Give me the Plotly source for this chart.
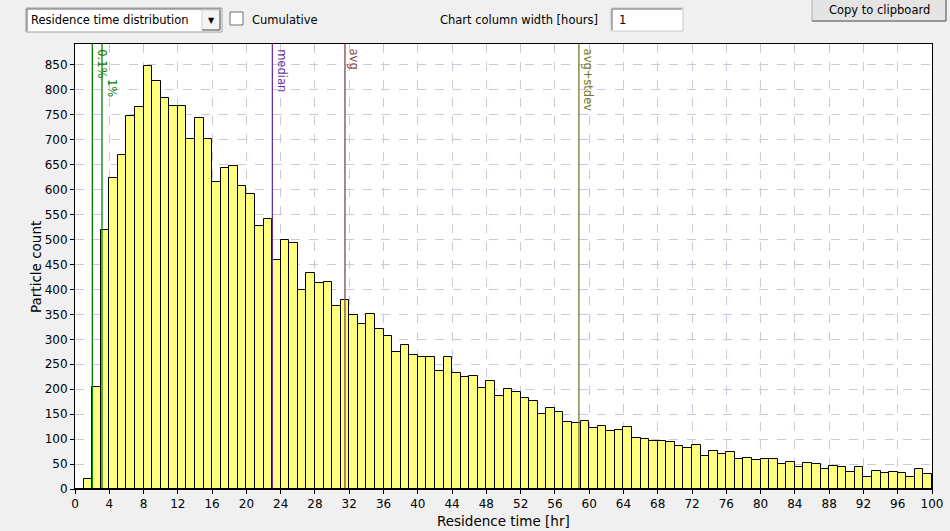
import plotly.graph_objects as go

# ---- data ----
hours = list(range(100))  # bin start [hr], bin width 1 hr
counts = [0, 20, 204, 520, 624, 669, 748, 765, 848, 818,
          783, 767, 767, 701, 743, 701, 616, 644, 648, 607,
          592, 527, 541, 460, 500, 493, 398, 433, 413, 415,
          366, 378, 348, 331, 351, 320, 306, 274, 289, 269,
          264, 264, 236, 264, 232, 224, 226, 202, 217, 187,
          201, 194, 182, 177, 150, 162, 155, 135, 132, 137,
          122, 126, 117, 119, 124, 102, 100, 97, 97, 94,
          87, 82, 89, 67, 77, 70, 75, 60, 62, 58,
          60, 60, 50, 55, 45, 52, 50, 40, 47, 45,
          35, 45, 25, 37, 33, 35, 33, 25, 40, 30]
marker_names = ["0.1%", "1%", "median", "avg", "avg+stdev"]
marker_values = [2.02, 3.15, 23.03, 31.5, 58.8]
marker_colors = ["#008000", "#008000", "#6a32a8", "#844848", "#77772a"]
label_drop = [0, 30, 0, 0, 0]  # px offset of label below top
x_ticks = list(range(0, 101, 4))
y_ticks = list(range(0, 851, 50))

FONT = "DejaVu Sans, Tahoma, sans-serif"
W, H = 950, 531
L, R, T, B = 75, 18, 44, 42
PW, PH = W - L - R, H - T - B


def px(x):
    return (x - L) / PW


def py(y):
    return (H - B - y) / PH


fig = go.Figure()
fig.add_trace(go.Bar(
    x=[h + 0.5 for h in hours], y=counts, width=1,
    marker=dict(color="#ffff80", line=dict(color="#000000", width=1)),
    hoverinfo="x+y", showlegend=False))

shapes = []
annotations = []
for name, v, c, d in zip(marker_names, marker_values, marker_colors, label_drop):
    shapes.append(dict(type="line", xref="x", yref="paper", x0=v, x1=v, y0=0, y1=1,
                       line=dict(color=c, width=1.3), layer="above"))
    annotations.append(dict(xref="x", yref="paper", x=v, y=1, text=name, showarrow=False,
                            textangle=90, xanchor="left", yanchor="top", xshift=1,
                            yshift=-3 - d, font=dict(family=FONT, size=11.5, color=c)))

# thick bottom axis line
shapes.append(dict(type="line", xref="paper", yref="y", x0=0, x1=1, y0=0, y1=0,
                   line=dict(color="#000000", width=2), layer="above"))

# ---- UI widgets drawn above the chart ----
def rect(x0, y0, x1, y1, fill, line, lw=1):
    shapes.append(dict(type="rect", xref="paper", yref="paper",
                       x0=px(x0), x1=px(x1), y0=py(y1), y1=py(y0),
                       fillcolor=fill, line=dict(color=line, width=lw), layer="above"))


def hline(x0, x1, y, color, lw=1):
    shapes.append(dict(type="line", xref="paper", yref="paper", x0=px(x0), x1=px(x1),
                       y0=py(y), y1=py(y), line=dict(color=color, width=lw)))


def vline(x, y0, y1, color, lw=1):
    shapes.append(dict(type="line", xref="paper", yref="paper", x0=px(x), x1=px(x),
                       y0=py(y0), y1=py(y1), line=dict(color=color, width=lw)))


def label(x, y, text, size=11.5, anchor="left", color="#000000", angle=0):
    annotations.append(dict(xref="paper", yref="paper", x=px(x), y=py(y), text=text,
                            showarrow=False, xanchor=anchor, yanchor="middle",
                            textangle=angle,
                            font=dict(family=FONT, size=size, color=color)))


# dropdown
rect(26, 8, 222, 32, "#ffffff", "#a0a0a0")
hline(27, 221, 9, "#696969")
vline(27, 9, 31, "#696969")
rect(202, 10, 220, 30, "#f4f4f4", "#d0d0d0")
hline(202, 220, 30, "#555555")
vline(220, 10, 30, "#555555")
label(29, 20.5, "Residence time distribution")
label(211, 20.5, "▼", size=8, anchor="center")
# checkbox
rect(230, 12, 243, 25, "#ffffff", "#707070")
label(250, 19.5, "Cumulative")
# column width
label(438, 20.5, "Chart column width [hours]")
rect(611, 8, 683, 31, "#ffffff", "#c8c8c8")
hline(612, 682, 9, "#696969")
vline(612, 9, 30, "#696969")
label(617, 20.5, "1")
# button
rect(812, -2, 946, 21, "#e4e4e4", "#b0b0b0")
hline(812, 946, 21, "#606060")
vline(946, -2, 21, "#606060")
label(879, 10, "Copy to clipboard", anchor="center")

# axis titles
label(L + PW / 2, 521, "Residence time [hr]", size=13.5, anchor="center")
label(36, 267, "Particle count", size=13.5, anchor="center", angle=-90)

grid = dict(showgrid=True, gridcolor="#c9c9df", griddash="dash", gridwidth=1)

fig.update_layout(
    width=W, height=H,
    margin=dict(l=L, r=R, t=T, b=B, pad=0, autoexpand=False),
    paper_bgcolor="#f0f0f0", plot_bgcolor="#ffffff",
    bargap=0,
    shapes=shapes, annotations=annotations,
    font=dict(family=FONT, size=12, color="#000000"),
    xaxis=dict(range=[0, 100], tickvals=x_ticks, ticktext=[str(t) for t in x_ticks],
               ticks="outside", ticklen=4, tickcolor="#000000", automargin=False,
               showline=True, linecolor="#000000", linewidth=1, mirror=True,
               zeroline=False, tickfont=dict(size=12),
               **grid),
    yaxis=dict(range=[0, 892], tickvals=y_ticks, ticktext=[str(t) for t in y_ticks],
               ticks="outside", ticklen=4, tickcolor="#000000", automargin=False,
               showline=True, linecolor="#000000", linewidth=1, mirror=True,
               zeroline=False, tickfont=dict(size=12),
               **grid),
)

fig.write_html("out.html")
